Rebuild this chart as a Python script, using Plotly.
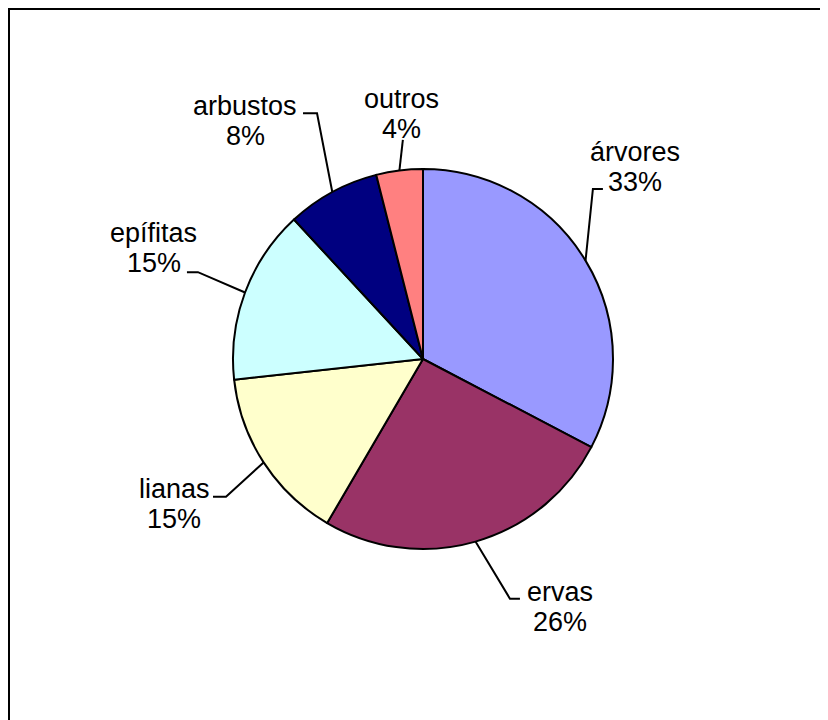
import math
import plotly.graph_objects as go

# ---- data ----
categories = ["árvores", "ervas", "lianas", "epífitas", "arbustos", "outros"]
values = [33, 26, 15, 15, 8, 4]
colors = ["#9999FF", "#993366", "#FFFFCC", "#CCFFFF", "#000080", "#FF8080"]

# ---- layout (pixels, page coordinates; the page body adds an 8px margin) ----
OFF = 8
W, H = 828 - OFF, 720 - OFF
CX, CY, R = 423 - OFF, 359 - OFF, 190
FONT = dict(family="Arial, Liberation Sans, sans-serif", size=27, color="black")
LINE_GAP = 15
# label placement: (angle tweak deg, radius px), leader end offset from label centre, elbow dx
label_polar = [(-11.0, 286), (-12.9, 283), (2.8, 288), (1.9, 291), (-8.3, 297), (2.2, 246)]
leader_end = [(-32, 22), (-40, -8), (39, -7), (33, 24), (58, -8), (1, 26)]
elbow_dx = [-10, -10, 13, 11, 14, 0]


def px(x):
    return x / W


def py(y):
    return 1 - y / H


fig = go.Figure(go.Pie(
    labels=categories, values=values, sort=False, direction="clockwise", rotation=0,
    marker=dict(colors=colors, line=dict(color="black", width=2)),
    textinfo="none", hoverinfo="label+percent", showlegend=False,
    domain=dict(x=[px(CX - R), px(CX + R)], y=[py(CY + R), py(CY - R)]),
))

total = sum(values)
cum = 0
annotations = []
shapes = []
for i, (name, v) in enumerate(zip(categories, values)):
    mid = (cum + v / 2) / total * 360
    cum += v
    pct = f"{round(v / total * 100):.0f}%"
    sx = CX + R * math.sin(math.radians(mid))
    sy = CY - R * math.cos(math.radians(mid))
    da, lr = label_polar[i]
    a = math.radians(mid + da)
    lx = CX + lr * math.sin(a)
    ly = CY - lr * math.cos(a)
    annotations.append(dict(x=px(lx), y=py(ly - LINE_GAP), xref="paper", yref="paper",
                            text=name, showarrow=False, font=FONT,
                            xanchor="center", yanchor="middle"))
    annotations.append(dict(x=px(lx), y=py(ly + LINE_GAP), xref="paper", yref="paper",
                            text=pct, showarrow=False, font=FONT,
                            xanchor="center", yanchor="middle"))
    ex, ey = lx + leader_end[i][0], ly + leader_end[i][1]
    bx, by = ex + elbow_dx[i], ey
    path = f"M {px(sx)},{py(sy)} L {px(bx)},{py(by)} L {px(ex)},{py(ey)}"
    shapes.append(dict(type="path", xref="paper", yref="paper", path=path,
                       line=dict(color="black", width=2)))

# outer chart border (runs off the right and bottom edges)
shapes.append(dict(type="rect", xref="paper", yref="paper",
                   x0=px(8 - OFF + 1), y0=py(H + 20), x1=px(W + 20), y1=py(9 - OFF),
                   line=dict(color="black", width=2), fillcolor="rgba(0,0,0,0)"))

fig.update_layout(
    width=W, height=H, margin=dict(l=0, r=0, t=0, b=0),
    paper_bgcolor="white", plot_bgcolor="white",
    annotations=annotations, shapes=shapes,
)
fig.write_html("out.html")
